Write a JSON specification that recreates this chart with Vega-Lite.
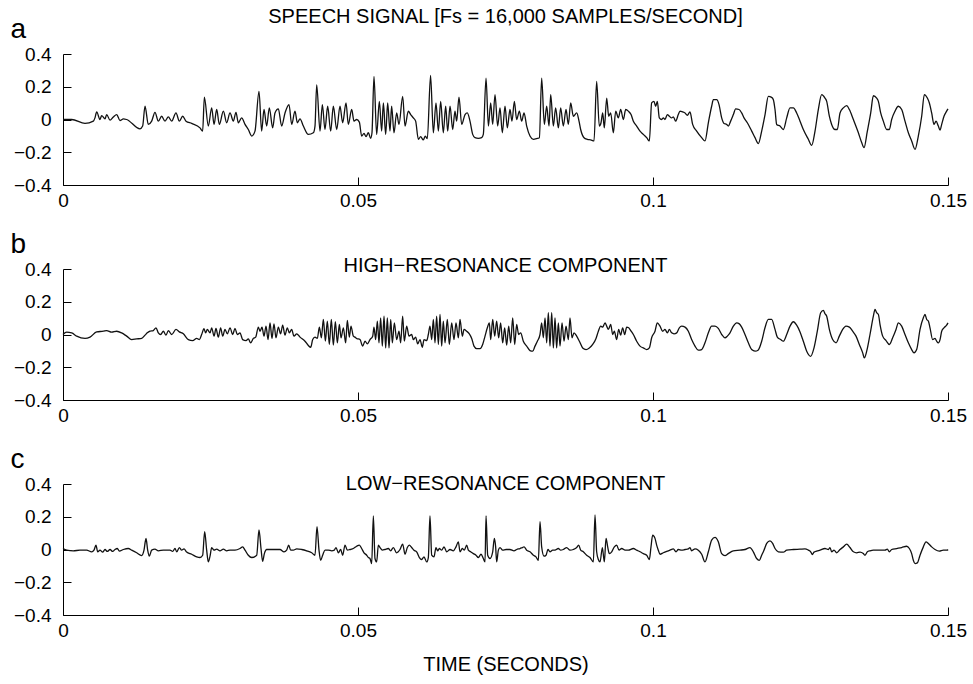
{
  "$schema": "https://vega.github.io/schema/vega-lite/v6.json",
  "background": "white",
  "padding": {"left": 10, "top": 7, "right": 10, "bottom": 5},
  "bounds": "flush",
  "spacing": 84,
  "config": {
    "view": {"stroke": null},
    "font": "Liberation Sans",
    "axis": {"grid": false, "domainColor": "black", "domainWidth": 1, "tickColor": "black", "tickWidth": 1, "tickSize": -8, "labelColor": "black", "labelFont": "Liberation Sans", "labelFontSize": 19, "labelFlush": false, "labelOverlap": false, "titleFont": "Liberation Sans", "titleFontWeight": "normal", "titleColor": "black"},
    "axisX": {"labelPadding": 14},
    "axisY": {"labelPadding": 20},
    "title": {"font": "Liberation Sans", "fontSize": 20, "fontWeight": "normal", "color": "black", "frame": "group", "anchor": "middle", "baseline": "alphabetic"}
  },
  "datasets": {
    "a": [
      {"t":0,"v":0},{"t":0.00147,"v":0},{"t":0.00373,"v":-0.024},{"t":0.00514,"v":-0.01},{"t":0.00542,"v":0.01},{"t":0.00571,"v":0.046},{"t":0.00627,"v":0},{"t":0.00655,"v":0.024},{"t":0.00712,"v":0.004},{"t":0.0074,"v":0.03},{"t":0.00797,"v":-0.004},{"t":0.00853,"v":0.016},{"t":0.0091,"v":0.03},{"t":0.00966,"v":-0.006},{"t":0.01023,"v":0.004},{"t":0.01079,"v":0},{"t":0.01305,"v":-0.057},{"t":0.0135,"v":-0.04},{"t":0.0139,"v":0.081},{"t":0.01446,"v":-0.03},{"t":0.01503,"v":-0.01},{"t":0.01559,"v":0.044},{"t":0.01616,"v":-0.01},{"t":0.01672,"v":0.02},{"t":0.01729,"v":-0.01},{"t":0.01785,"v":0.016},{"t":0.01842,"v":-0.01},{"t":0.01915,"v":0.04},{"t":0.01972,"v":-0.01},{"t":0.02028,"v":0.02},{"t":0.02085,"v":-0.01},{"t":0.02181,"v":-0.024},{"t":0.02322,"v":-0.051},{"t":0.02367,"v":-0.071},{"t":0.02396,"v":0.137},{"t":0.02463,"v":-0.04},{"t":0.0252,"v":0.071},{"t":0.0256,"v":-0.03},{"t":0.02605,"v":0.061},{"t":0.0265,"v":-0.03},{"t":0.02718,"v":0.051},{"t":0.02774,"v":-0.02},{"t":0.02831,"v":0.04},{"t":0.02887,"v":-0.01},{"t":0.02932,"v":0.044},{"t":0.02972,"v":-0.02},{"t":0.03028,"v":0.01},{"t":0.03085,"v":-0.03},{"t":0.03141,"v":-0.061},{"t":0.03198,"v":-0.101},{"t":0.03254,"v":-0.071},{"t":0.03322,"v":0.172},{"t":0.03367,"v":-0.071},{"t":0.03407,"v":0.061},{"t":0.03452,"v":-0.04},{"t":0.03497,"v":0.071},{"t":0.03554,"v":-0.051},{"t":0.03593,"v":0.04},{"t":0.0365,"v":0.065},{"t":0.03706,"v":-0.04},{"t":0.03763,"v":0.04},{"t":0.03831,"v":0.091},{"t":0.03876,"v":-0.03},{"t":0.03932,"v":0.051},{"t":0.03972,"v":-0.02},{"t":0.04017,"v":0.004},{"t":0.04074,"v":-0.04},{"t":0.04158,"v":-0.091},{"t":0.04243,"v":-0.081},{"t":0.04271,"v":-0.04},{"t":0.043,"v":0.212},{"t":0.04356,"v":-0.071},{"t":0.04396,"v":0.091},{"t":0.0444,"v":-0.061},{"t":0.04486,"v":0.081},{"t":0.04537,"v":-0.071},{"t":0.04582,"v":0.081},{"t":0.04639,"v":-0.061},{"t":0.04695,"v":0.081},{"t":0.0474,"v":-0.02},{"t":0.04797,"v":0.101},{"t":0.04836,"v":-0.03},{"t":0.04893,"v":0.061},{"t":0.04932,"v":-0.01},{"t":0.04977,"v":0},{"t":0.05023,"v":-0.016},{"t":0.05062,"v":-0.101},{"t":0.05102,"v":-0.085},{"t":0.05136,"v":-0.105},{"t":0.05175,"v":-0.081},{"t":0.05215,"v":-0.115},{"t":0.05237,"v":-0.081},{"t":0.05271,"v":0.263},{"t":0.05316,"v":-0.091},{"t":0.05362,"v":0.111},{"t":0.05401,"v":-0.071},{"t":0.0543,"v":0.101},{"t":0.05469,"v":-0.091},{"t":0.05503,"v":0.101},{"t":0.05542,"v":-0.071},{"t":0.0557,"v":0.081},{"t":0.0561,"v":-0.081},{"t":0.05655,"v":0.04},{"t":0.05695,"v":-0.03},{"t":0.05757,"v":0.141},{"t":0.05797,"v":-0.04},{"t":0.05853,"v":0.051},{"t":0.05893,"v":0.03},{"t":0.05938,"v":0.01},{"t":0.05977,"v":-0.01},{"t":0.06023,"v":-0.121},{"t":0.06062,"v":-0.105},{"t":0.06107,"v":-0.125},{"t":0.06141,"v":-0.101},{"t":0.06175,"v":-0.117},{"t":0.0623,"v":0.269},{"t":0.06277,"v":-0.081},{"t":0.06322,"v":0.101},{"t":0.06362,"v":-0.071},{"t":0.06401,"v":0.111},{"t":0.06446,"v":-0.081},{"t":0.06486,"v":0.081},{"t":0.0652,"v":-0.071},{"t":0.0656,"v":0.081},{"t":0.06605,"v":-0.061},{"t":0.06644,"v":0.051},{"t":0.06672,"v":-0.01},{"t":0.06712,"v":0.137},{"t":0.06757,"v":-0.03},{"t":0.06814,"v":0.03},{"t":0.06853,"v":0.04},{"t":0.06898,"v":-0.01},{"t":0.06944,"v":-0.091},{"t":0.06983,"v":-0.111},{"t":0.0704,"v":-0.115},{"t":0.07096,"v":-0.111},{"t":0.07124,"v":-0.091},{"t":0.0717,"v":0.253},{"t":0.0721,"v":-0.04},{"t":0.07249,"v":0.101},{"t":0.07283,"v":-0.03},{"t":0.07322,"v":0.152},{"t":0.07367,"v":-0.04},{"t":0.07407,"v":0.071},{"t":0.07446,"v":-0.081},{"t":0.07492,"v":0.081},{"t":0.07531,"v":-0.051},{"t":0.07576,"v":0.061},{"t":0.0761,"v":-0.01},{"t":0.0765,"v":0.111},{"t":0.07689,"v":0},{"t":0.07735,"v":0.051},{"t":0.07774,"v":-0.01},{"t":0.07814,"v":0.04},{"t":0.07859,"v":-0.04},{"t":0.07915,"v":-0.101},{"t":0.07972,"v":-0.121},{"t":0.08028,"v":-0.117},{"t":0.08074,"v":-0.111},{"t":0.08113,"v":0.253},{"t":0.08158,"v":-0.03},{"t":0.08198,"v":0.081},{"t":0.08238,"v":-0.04},{"t":0.08266,"v":0.152},{"t":0.08311,"v":-0.04},{"t":0.0835,"v":0.071},{"t":0.08396,"v":-0.051},{"t":0.08435,"v":0.071},{"t":0.0848,"v":-0.04},{"t":0.08526,"v":0.061},{"t":0.08565,"v":-0.03},{"t":0.08605,"v":0.101},{"t":0.0865,"v":0.02},{"t":0.08707,"v":0.04},{"t":0.08746,"v":-0.01},{"t":0.08774,"v":-0.061},{"t":0.08831,"v":-0.111},{"t":0.08887,"v":-0.121},{"t":0.08944,"v":-0.125},{"t":0.09,"v":-0.131},{"t":0.09045,"v":0.232},{"t":0.0909,"v":-0.04},{"t":0.09119,"v":-0.02},{"t":0.09147,"v":0.04},{"t":0.09175,"v":-0.051},{"t":0.09215,"v":0.131},{"t":0.09249,"v":0.02},{"t":0.09283,"v":0.04},{"t":0.09328,"v":-0.081},{"t":0.09368,"v":0.051},{"t":0.09413,"v":0.01},{"t":0.09452,"v":0.061},{"t":0.09498,"v":0},{"t":0.09537,"v":0.061},{"t":0.09582,"v":0.051},{"t":0.09628,"v":0.03},{"t":0.09667,"v":-0.01},{"t":0.09723,"v":-0.04},{"t":0.0978,"v":-0.071},{"t":0.09836,"v":-0.091},{"t":0.09893,"v":-0.111},{"t":0.09938,"v":-0.131},{"t":0.09977,"v":0.101},{"t":0.10017,"v":0.111},{"t":0.10045,"v":0.081},{"t":0.10073,"v":0.111},{"t":0.10107,"v":0.01},{"t":0.10147,"v":0},{"t":0.10175,"v":0.01},{"t":0.10203,"v":0},{"t":0.10243,"v":0.03},{"t":0.10277,"v":0.02},{"t":0.10316,"v":0.01},{"t":0.10345,"v":0.016},{"t":0.10384,"v":-0.01},{"t":0.10429,"v":0.03},{"t":0.10458,"v":0.051},{"t":0.10503,"v":0.046},{"t":0.10543,"v":0.04},{"t":0.10582,"v":0.026},{"t":0.10627,"v":0.046},{"t":0.10672,"v":-0.03},{"t":0.1074,"v":-0.071},{"t":0.10825,"v":-0.111},{"t":0.10881,"v":-0.131},{"t":0.10938,"v":-0.02},{"t":0.10994,"v":0.081},{"t":0.11023,"v":0.121},{"t":0.11079,"v":0.121},{"t":0.11119,"v":0.091},{"t":0.11164,"v":0.01},{"t":0.11204,"v":-0.024},{"t":0.11249,"v":-0.03},{"t":0.11277,"v":-0.04},{"t":0.11316,"v":-0.01},{"t":0.11362,"v":0.03},{"t":0.11401,"v":0.065},{"t":0.11458,"v":0.061},{"t":0.11503,"v":0.04},{"t":0.11543,"v":0.01},{"t":0.11599,"v":-0.02},{"t":0.11673,"v":-0.071},{"t":0.11729,"v":-0.111},{"t":0.11786,"v":-0.147},{"t":0.11842,"v":-0.071},{"t":0.11899,"v":0.03},{"t":0.11955,"v":0.141},{"t":0.12011,"v":0.135},{"t":0.1204,"v":0.121},{"t":0.12068,"v":0.061},{"t":0.12096,"v":-0.03},{"t":0.12153,"v":-0.04},{"t":0.12209,"v":-0.061},{"t":0.12266,"v":0.01},{"t":0.12322,"v":0.071},{"t":0.12379,"v":0.071},{"t":0.12435,"v":0.04},{"t":0.12492,"v":-0.01},{"t":0.12548,"v":-0.061},{"t":0.12633,"v":-0.121},{"t":0.1269,"v":-0.158},{"t":0.12746,"v":-0.071},{"t":0.12802,"v":0.061},{"t":0.12859,"v":0.152},{"t":0.12915,"v":0.131},{"t":0.12944,"v":0.111},{"t":0.12989,"v":0.02},{"t":0.13028,"v":-0.03},{"t":0.13085,"v":-0.061},{"t":0.13124,"v":-0.061},{"t":0.1317,"v":0.04},{"t":0.13226,"v":0.071},{"t":0.13283,"v":0.085},{"t":0.13328,"v":0.061},{"t":0.13396,"v":0},{"t":0.13481,"v":-0.081},{"t":0.13537,"v":-0.141},{"t":0.13577,"v":-0.172},{"t":0.13633,"v":-0.071},{"t":0.1369,"v":0.04},{"t":0.13735,"v":0.145},{"t":0.13791,"v":0.131},{"t":0.1382,"v":0.111},{"t":0.13859,"v":0.04},{"t":0.13904,"v":-0.01},{"t":0.13961,"v":-0.061},{"t":0.14006,"v":-0.061},{"t":0.14045,"v":0},{"t":0.14102,"v":0.051},{"t":0.14158,"v":0.081},{"t":0.14215,"v":0.061},{"t":0.14271,"v":-0.01},{"t":0.14328,"v":-0.081},{"t":0.14384,"v":-0.131},{"t":0.14441,"v":-0.182},{"t":0.14497,"v":-0.101},{"t":0.14554,"v":0.02},{"t":0.14599,"v":0.152},{"t":0.1465,"v":0.131},{"t":0.14684,"v":0.101},{"t":0.14723,"v":0.04},{"t":0.14763,"v":-0.03},{"t":0.14797,"v":-0.01},{"t":0.14836,"v":-0.04},{"t":0.14865,"v":-0.065},{"t":0.14893,"v":-0.03},{"t":0.14932,"v":0.02},{"t":0.14977,"v":0.051},{"t":0.15,"v":0.065}
    ],
    "b": [
      {"t":0,"v":0},{"t":0.00062,"v":0.014},{"t":0.00147,"v":0.01},{"t":0.00232,"v":-0.01},{"t":0.00373,"v":-0.024},{"t":0.00458,"v":-0.016},{"t":0.00571,"v":0.016},{"t":0.00684,"v":0.02},{"t":0.0074,"v":0.024},{"t":0.00825,"v":0.014},{"t":0.0091,"v":0.02},{"t":0.00994,"v":0.01},{"t":0.01079,"v":-0.01},{"t":0.01164,"v":-0.031},{"t":0.01249,"v":-0.027},{"t":0.01333,"v":-0.024},{"t":0.0139,"v":-0.004},{"t":0.01429,"v":0.01},{"t":0.01475,"v":0.02},{"t":0.01531,"v":0.024},{"t":0.01576,"v":0.041},{"t":0.01616,"v":0.01},{"t":0.01655,"v":0},{"t":0.01701,"v":0.02},{"t":0.01746,"v":-0.004},{"t":0.01785,"v":0.024},{"t":0.01842,"v":0},{"t":0.01915,"v":0.031},{"t":0.01972,"v":0.016},{"t":0.0204,"v":0.004},{"t":0.02124,"v":-0.031},{"t":0.02198,"v":-0.037},{"t":0.02266,"v":-0.024},{"t":0.02311,"v":-0.031},{"t":0.0235,"v":0},{"t":0.0239,"v":0.035},{"t":0.02418,"v":0.01},{"t":0.02446,"v":0.031},{"t":0.02492,"v":0.01},{"t":0.0252,"v":0.041},{"t":0.0256,"v":-0.01},{"t":0.02593,"v":0.037},{"t":0.02633,"v":-0.016},{"t":0.02672,"v":0.041},{"t":0.02706,"v":-0.01},{"t":0.02746,"v":0.031},{"t":0.02785,"v":0.004},{"t":0.02831,"v":0.041},{"t":0.02876,"v":0},{"t":0.02915,"v":0.037},{"t":0.02955,"v":0},{"t":0.03,"v":0.01},{"t":0.03045,"v":-0.031},{"t":0.03102,"v":-0.037},{"t":0.03141,"v":-0.027},{"t":0.03181,"v":-0.051},{"t":0.03226,"v":-0.024},{"t":0.03266,"v":-0.016},{"t":0.03311,"v":0.045},{"t":0.03339,"v":0.02},{"t":0.03373,"v":0.045},{"t":0.03407,"v":-0.01},{"t":0.03441,"v":0.051},{"t":0.03475,"v":-0.031},{"t":0.03509,"v":0.071},{"t":0.03542,"v":-0.024},{"t":0.03576,"v":0.065},{"t":0.0361,"v":-0.02},{"t":0.0365,"v":0.045},{"t":0.03689,"v":0.004},{"t":0.03723,"v":0.057},{"t":0.03763,"v":-0.004},{"t":0.03802,"v":0.041},{"t":0.03836,"v":0.01},{"t":0.03876,"v":0.031},{"t":0.03915,"v":-0.01},{"t":0.03961,"v":0.004},{"t":0.04017,"v":-0.016},{"t":0.04102,"v":-0.041},{"t":0.04158,"v":-0.067},{"t":0.04198,"v":-0.078},{"t":0.04232,"v":-0.031},{"t":0.04271,"v":-0.016},{"t":0.04311,"v":-0.024},{"t":0.04345,"v":0.045},{"t":0.04379,"v":-0.02},{"t":0.04413,"v":0.092},{"t":0.04447,"v":-0.041},{"t":0.0448,"v":0.082},{"t":0.04514,"v":-0.061},{"t":0.04548,"v":0.092},{"t":0.04582,"v":-0.065},{"t":0.04616,"v":0.078},{"t":0.0465,"v":-0.051},{"t":0.04684,"v":0.061},{"t":0.04712,"v":-0.02},{"t":0.04752,"v":0.041},{"t":0.04791,"v":-0.051},{"t":0.04819,"v":0.086},{"t":0.04853,"v":-0.016},{"t":0.04881,"v":0.051},{"t":0.04921,"v":-0.01},{"t":0.04949,"v":-0.016},{"t":0.04977,"v":-0.024},{"t":0.05034,"v":-0.031},{"t":0.05079,"v":-0.071},{"t":0.05119,"v":-0.041},{"t":0.05158,"v":-0.057},{"t":0.05203,"v":-0.031},{"t":0.05249,"v":-0.01},{"t":0.05271,"v":0.045},{"t":0.05299,"v":-0.031},{"t":0.05328,"v":0.082},{"t":0.05356,"v":-0.051},{"t":0.05384,"v":0.102},{"t":0.05412,"v":-0.071},{"t":0.05441,"v":0.112},{"t":0.05469,"v":-0.082},{"t":0.05497,"v":0.102},{"t":0.05526,"v":-0.082},{"t":0.05554,"v":0.092},{"t":0.05582,"v":-0.051},{"t":0.05616,"v":0.071},{"t":0.05655,"v":-0.031},{"t":0.05695,"v":0.02},{"t":0.05723,"v":-0.051},{"t":0.05757,"v":0.112},{"t":0.05785,"v":-0.041},{"t":0.05825,"v":0.051},{"t":0.05865,"v":-0.01},{"t":0.0591,"v":0},{"t":0.05938,"v":-0.031},{"t":0.05977,"v":-0.016},{"t":0.06011,"v":-0.057},{"t":0.06051,"v":-0.031},{"t":0.0609,"v":-0.078},{"t":0.06119,"v":-0.031},{"t":0.06164,"v":-0.037},{"t":0.06192,"v":0},{"t":0.0622,"v":0.051},{"t":0.06249,"v":-0.031},{"t":0.06277,"v":0.092},{"t":0.06305,"v":-0.051},{"t":0.06333,"v":0.112},{"t":0.06362,"v":-0.061},{"t":0.0639,"v":0.122},{"t":0.06418,"v":-0.071},{"t":0.06446,"v":0.082},{"t":0.06475,"v":-0.051},{"t":0.06514,"v":0.092},{"t":0.06548,"v":-0.061},{"t":0.06588,"v":0.071},{"t":0.06627,"v":-0.031},{"t":0.06661,"v":0.071},{"t":0.06701,"v":-0.02},{"t":0.06729,"v":0.092},{"t":0.06768,"v":-0.01},{"t":0.06797,"v":0.031},{"t":0.06842,"v":0.02},{"t":0.06887,"v":0.004},{"t":0.06927,"v":-0.024},{"t":0.06966,"v":-0.071},{"t":0.07011,"v":-0.086},{"t":0.07068,"v":-0.086},{"t":0.07113,"v":-0.061},{"t":0.07153,"v":-0.01},{"t":0.07192,"v":0.041},{"t":0.07226,"v":0.071},{"t":0.07249,"v":-0.031},{"t":0.07283,"v":0.092},{"t":0.07317,"v":-0.01},{"t":0.0735,"v":0.082},{"t":0.07384,"v":-0.02},{"t":0.07418,"v":0.071},{"t":0.07452,"v":-0.051},{"t":0.07486,"v":0.041},{"t":0.0752,"v":-0.065},{"t":0.07554,"v":0.051},{"t":0.07588,"v":-0.051},{"t":0.07622,"v":0.102},{"t":0.07656,"v":-0.061},{"t":0.07689,"v":0.061},{"t":0.07723,"v":0},{"t":0.07757,"v":0.01},{"t":0.07802,"v":-0.041},{"t":0.07859,"v":-0.071},{"t":0.07915,"v":-0.098},{"t":0.07961,"v":-0.102},{"t":0.08,"v":-0.071},{"t":0.0804,"v":-0.041},{"t":0.08085,"v":0},{"t":0.08113,"v":0.071},{"t":0.08141,"v":-0.02},{"t":0.0817,"v":0.102},{"t":0.08198,"v":-0.051},{"t":0.08226,"v":0.133},{"t":0.08254,"v":-0.071},{"t":0.08283,"v":0.133},{"t":0.08311,"v":-0.082},{"t":0.08339,"v":0.102},{"t":0.08367,"v":-0.082},{"t":0.08396,"v":0.071},{"t":0.08424,"v":-0.071},{"t":0.08458,"v":0.071},{"t":0.08492,"v":-0.041},{"t":0.08526,"v":0.051},{"t":0.08565,"v":-0.031},{"t":0.08593,"v":0.102},{"t":0.08627,"v":-0.02},{"t":0.08661,"v":0.01},{"t":0.08706,"v":-0.01},{"t":0.08752,"v":-0.041},{"t":0.08808,"v":-0.082},{"t":0.08865,"v":-0.092},{"t":0.08921,"v":-0.082},{"t":0.08978,"v":-0.061},{"t":0.09034,"v":-0.024},{"t":0.09074,"v":0.02},{"t":0.09113,"v":0.051},{"t":0.09147,"v":0.045},{"t":0.09187,"v":0.071},{"t":0.09215,"v":0.051},{"t":0.09243,"v":0.031},{"t":0.09283,"v":0.061},{"t":0.09317,"v":0},{"t":0.09345,"v":0.02},{"t":0.09384,"v":-0.031},{"t":0.09418,"v":0.031},{"t":0.09452,"v":-0.004},{"t":0.09486,"v":0.041},{"t":0.0952,"v":0},{"t":0.09554,"v":0.045},{"t":0.09588,"v":0.041},{"t":0.09622,"v":0.024},{"t":0.09667,"v":0},{"t":0.09723,"v":-0.041},{"t":0.0978,"v":-0.071},{"t":0.09836,"v":-0.082},{"t":0.09893,"v":-0.092},{"t":0.09938,"v":-0.082},{"t":0.09977,"v":-0.02},{"t":0.10034,"v":0.02},{"t":0.10073,"v":0.071},{"t":0.10119,"v":0.051},{"t":0.10164,"v":0.02},{"t":0.10203,"v":0.031},{"t":0.10243,"v":0.01},{"t":0.10277,"v":0.031},{"t":0.10316,"v":0.01},{"t":0.10356,"v":0.004},{"t":0.10401,"v":0.01},{"t":0.10446,"v":0.041},{"t":0.10486,"v":0.051},{"t":0.10543,"v":0.045},{"t":0.10599,"v":0.02},{"t":0.10655,"v":-0.031},{"t":0.10712,"v":-0.071},{"t":0.10768,"v":-0.096},{"t":0.10825,"v":-0.092},{"t":0.10881,"v":-0.051},{"t":0.10938,"v":0.01},{"t":0.10994,"v":0.051},{"t":0.11051,"v":0.051},{"t":0.11107,"v":0.037},{"t":0.11164,"v":0},{"t":0.1122,"v":-0.02},{"t":0.1126,"v":-0.01},{"t":0.11305,"v":0.01},{"t":0.11362,"v":0.051},{"t":0.11418,"v":0.071},{"t":0.11463,"v":0.065},{"t":0.11503,"v":0.045},{"t":0.11559,"v":0},{"t":0.11616,"v":-0.051},{"t":0.11672,"v":-0.092},{"t":0.11729,"v":-0.102},{"t":0.11785,"v":-0.094},{"t":0.11842,"v":-0.041},{"t":0.11898,"v":0.041},{"t":0.11955,"v":0.092},{"t":0.12011,"v":0.092},{"t":0.12068,"v":0.031},{"t":0.12107,"v":-0.016},{"t":0.12164,"v":-0.031},{"t":0.12209,"v":-0.041},{"t":0.12266,"v":0},{"t":0.12322,"v":0.051},{"t":0.12379,"v":0.078},{"t":0.12435,"v":0.057},{"t":0.12492,"v":0.016},{"t":0.12548,"v":-0.041},{"t":0.12605,"v":-0.102},{"t":0.12672,"v":-0.133},{"t":0.12729,"v":-0.082},{"t":0.12785,"v":0.02},{"t":0.12842,"v":0.133},{"t":0.12887,"v":0.147},{"t":0.12915,"v":0.127},{"t":0.12944,"v":0.112},{"t":0.12989,"v":0.031},{"t":0.13045,"v":-0.031},{"t":0.13102,"v":-0.051},{"t":0.13158,"v":-0.01},{"t":0.13215,"v":0.031},{"t":0.13271,"v":0.051},{"t":0.13328,"v":0.045},{"t":0.13384,"v":0.02},{"t":0.13441,"v":-0.01},{"t":0.13497,"v":-0.061},{"t":0.13554,"v":-0.112},{"t":0.13582,"v":-0.143},{"t":0.13622,"v":-0.102},{"t":0.13678,"v":0},{"t":0.13735,"v":0.112},{"t":0.13763,"v":0.153},{"t":0.13791,"v":0.133},{"t":0.1382,"v":0.122},{"t":0.13848,"v":0.061},{"t":0.13893,"v":-0.01},{"t":0.1395,"v":-0.037},{"t":0.14006,"v":-0.061},{"t":0.14062,"v":-0.02},{"t":0.14119,"v":0.031},{"t":0.14159,"v":0.071},{"t":0.14215,"v":0.051},{"t":0.14271,"v":0},{"t":0.14328,"v":-0.051},{"t":0.14384,"v":-0.092},{"t":0.14424,"v":-0.112},{"t":0.14469,"v":-0.092},{"t":0.14526,"v":0.031},{"t":0.14582,"v":0.102},{"t":0.1461,"v":0.122},{"t":0.14639,"v":0.092},{"t":0.14667,"v":0.082},{"t":0.14695,"v":0.041},{"t":0.1474,"v":-0.031},{"t":0.1478,"v":-0.024},{"t":0.14808,"v":-0.041},{"t":0.14836,"v":-0.051},{"t":0.14865,"v":-0.031},{"t":0.14893,"v":0.02},{"t":0.14932,"v":0.041},{"t":0.14977,"v":0.057},{"t":0.15,"v":0.071}
    ],
    "c": [
      {"t":0,"v":0.006},{"t":0.00062,"v":-0.004},{"t":0.00175,"v":-0.008},{"t":0.00288,"v":-0.004},{"t":0.00401,"v":-0.004},{"t":0.00486,"v":-0.014},{"t":0.00525,"v":-0.004},{"t":0.00559,"v":0.027},{"t":0.00588,"v":-0.014},{"t":0.00627,"v":-0.004},{"t":0.00672,"v":-0.016},{"t":0.00712,"v":0},{"t":0.00751,"v":-0.012},{"t":0.00797,"v":0},{"t":0.00842,"v":-0.012},{"t":0.00881,"v":0},{"t":0.00921,"v":0.006},{"t":0.00955,"v":-0.01},{"t":0.01023,"v":0},{"t":0.01107,"v":0.006},{"t":0.01164,"v":-0.004},{"t":0.01249,"v":-0.02},{"t":0.01333,"v":-0.037},{"t":0.01373,"v":-0.004},{"t":0.01407,"v":0.068},{"t":0.01435,"v":-0.004},{"t":0.01463,"v":-0.041},{"t":0.01503,"v":-0.004},{"t":0.01559,"v":0.002},{"t":0.01616,"v":-0.008},{"t":0.01701,"v":-0.004},{"t":0.01814,"v":-0.004},{"t":0.01859,"v":-0.012},{"t":0.01898,"v":0.006},{"t":0.01927,"v":-0.014},{"t":0.01972,"v":0.012},{"t":0.02011,"v":-0.004},{"t":0.02051,"v":0.004},{"t":0.02096,"v":-0.016},{"t":0.02181,"v":-0.029},{"t":0.02266,"v":-0.045},{"t":0.02322,"v":-0.049},{"t":0.02367,"v":-0.035},{"t":0.02401,"v":0.109},{"t":0.02435,"v":-0.004},{"t":0.02463,"v":-0.076},{"t":0.02492,"v":-0.041},{"t":0.0252,"v":0.012},{"t":0.0256,"v":-0.004},{"t":0.02605,"v":0.002},{"t":0.02661,"v":-0.008},{"t":0.02718,"v":0.002},{"t":0.02774,"v":-0.008},{"t":0.02831,"v":-0.004},{"t":0.02915,"v":-0.004},{"t":0.03,"v":0.006},{"t":0.03045,"v":0.016},{"t":0.03085,"v":-0.004},{"t":0.03141,"v":-0.035},{"t":0.03198,"v":-0.049},{"t":0.03283,"v":-0.035},{"t":0.03322,"v":0.119},{"t":0.03356,"v":0.006},{"t":0.03384,"v":-0.072},{"t":0.03413,"v":-0.025},{"t":0.03452,"v":0},{"t":0.03509,"v":0},{"t":0.03678,"v":0},{"t":0.03746,"v":-0.014},{"t":0.03791,"v":-0.004},{"t":0.03825,"v":0.027},{"t":0.03859,"v":-0.004},{"t":0.03904,"v":-0.004},{"t":0.03961,"v":0.004},{"t":0.04045,"v":0},{"t":0.0413,"v":-0.008},{"t":0.04215,"v":-0.02},{"t":0.04271,"v":-0.035},{"t":0.04305,"v":0.139},{"t":0.04339,"v":-0.004},{"t":0.04367,"v":-0.066},{"t":0.04401,"v":-0.035},{"t":0.04441,"v":-0.004},{"t":0.04497,"v":-0.004},{"t":0.04554,"v":-0.008},{"t":0.04599,"v":-0.004},{"t":0.04627,"v":0.012},{"t":0.04667,"v":-0.02},{"t":0.04706,"v":0},{"t":0.0474,"v":-0.035},{"t":0.0478,"v":0.027},{"t":0.04819,"v":-0.004},{"t":0.04864,"v":0},{"t":0.04921,"v":0.006},{"t":0.04977,"v":0.02},{"t":0.05023,"v":0.027},{"t":0.05062,"v":0.006},{"t":0.05102,"v":-0.02},{"t":0.05147,"v":-0.035},{"t":0.05175,"v":-0.049},{"t":0.05203,"v":-0.055},{"t":0.05232,"v":-0.086},{"t":0.0526,"v":0.205},{"t":0.05288,"v":-0.055},{"t":0.05316,"v":-0.076},{"t":0.05345,"v":0.027},{"t":0.05373,"v":0.012},{"t":0.05412,"v":-0.004},{"t":0.05458,"v":0},{"t":0.05514,"v":0.006},{"t":0.05554,"v":-0.008},{"t":0.05599,"v":0.012},{"t":0.05655,"v":-0.02},{"t":0.05712,"v":0},{"t":0.05757,"v":0.033},{"t":0.05797,"v":-0.029},{"t":0.05836,"v":0.012},{"t":0.0587,"v":0.027},{"t":0.0591,"v":0.012},{"t":0.05949,"v":-0.004},{"t":0.05994,"v":-0.014},{"t":0.0604,"v":-0.049},{"t":0.06079,"v":-0.061},{"t":0.06119,"v":-0.045},{"t":0.06164,"v":-0.076},{"t":0.06192,"v":-0.049},{"t":0.0622,"v":0.205},{"t":0.06249,"v":-0.035},{"t":0.06288,"v":-0.045},{"t":0.06322,"v":0.012},{"t":0.0635,"v":-0.008},{"t":0.06379,"v":0.006},{"t":0.06418,"v":-0.004},{"t":0.06458,"v":0.016},{"t":0.06503,"v":-0.014},{"t":0.0656,"v":0},{"t":0.06616,"v":-0.008},{"t":0.06661,"v":0.016},{"t":0.06701,"v":0.047},{"t":0.06729,"v":-0.014},{"t":0.06768,"v":0.006},{"t":0.06802,"v":-0.004},{"t":0.06842,"v":0.027},{"t":0.0687,"v":-0.004},{"t":0.0691,"v":-0.014},{"t":0.06955,"v":-0.025},{"t":0.07,"v":-0.035},{"t":0.0704,"v":-0.049},{"t":0.07085,"v":-0.029},{"t":0.07124,"v":-0.055},{"t":0.07153,"v":-0.076},{"t":0.0717,"v":0.205},{"t":0.07198,"v":-0.035},{"t":0.07237,"v":-0.055},{"t":0.07283,"v":-0.014},{"t":0.07311,"v":0.068},{"t":0.07333,"v":0.016},{"t":0.0735,"v":-0.076},{"t":0.07379,"v":-0.004},{"t":0.07407,"v":0.012},{"t":0.07452,"v":-0.004},{"t":0.07509,"v":0},{"t":0.07576,"v":0},{"t":0.07644,"v":-0.008},{"t":0.07689,"v":0},{"t":0.07746,"v":0.006},{"t":0.07786,"v":0.012},{"t":0.07814,"v":0.016},{"t":0.07859,"v":-0.004},{"t":0.07915,"v":-0.014},{"t":0.07972,"v":-0.035},{"t":0.08017,"v":-0.045},{"t":0.08057,"v":-0.066},{"t":0.08085,"v":0.17},{"t":0.08113,"v":0.016},{"t":0.08153,"v":-0.041},{"t":0.08187,"v":-0.035},{"t":0.0822,"v":0},{"t":0.08254,"v":-0.014},{"t":0.08299,"v":-0.004},{"t":0.08339,"v":-0.004},{"t":0.08396,"v":0.006},{"t":0.08435,"v":-0.004},{"t":0.0848,"v":0},{"t":0.08537,"v":0.012},{"t":0.08593,"v":-0.004},{"t":0.0865,"v":0},{"t":0.08707,"v":0.012},{"t":0.0874,"v":0.027},{"t":0.08774,"v":-0.004},{"t":0.08819,"v":-0.014},{"t":0.08876,"v":-0.035},{"t":0.08932,"v":-0.049},{"t":0.08989,"v":-0.076},{"t":0.09017,"v":0.211},{"t":0.09045,"v":-0.014},{"t":0.09074,"v":-0.061},{"t":0.09102,"v":-0.076},{"t":0.09142,"v":0.012},{"t":0.09175,"v":-0.076},{"t":0.09204,"v":0.068},{"t":0.09232,"v":0.016},{"t":0.0926,"v":-0.025},{"t":0.093,"v":-0.014},{"t":0.09345,"v":0.016},{"t":0.09384,"v":0.027},{"t":0.09424,"v":-0.004},{"t":0.0947,"v":0.006},{"t":0.09526,"v":-0.004},{"t":0.09582,"v":-0.004},{"t":0.09667,"v":0.006},{"t":0.09723,"v":-0.004},{"t":0.0978,"v":-0.014},{"t":0.09836,"v":-0.025},{"t":0.09893,"v":-0.035},{"t":0.09938,"v":-0.061},{"t":0.09966,"v":0.016},{"t":0.09994,"v":0.088},{"t":0.10034,"v":0.068},{"t":0.10062,"v":0.027},{"t":0.1009,"v":-0.004},{"t":0.10119,"v":-0.029},{"t":0.10175,"v":-0.02},{"t":0.10232,"v":-0.012},{"t":0.10288,"v":-0.004},{"t":0.10345,"v":0.004},{"t":0.1039,"v":-0.014},{"t":0.10429,"v":0},{"t":0.10486,"v":-0.004},{"t":0.10543,"v":0},{"t":0.10599,"v":0.004},{"t":0.10627,"v":0.012},{"t":0.10655,"v":-0.008},{"t":0.10712,"v":0.004},{"t":0.10768,"v":-0.004},{"t":0.10825,"v":-0.029},{"t":0.10881,"v":-0.076},{"t":0.10938,"v":-0.014},{"t":0.10994,"v":0.057},{"t":0.11051,"v":0.074},{"t":0.11107,"v":0.047},{"t":0.11164,"v":-0.025},{"t":0.1122,"v":-0.037},{"t":0.11276,"v":-0.025},{"t":0.11361,"v":-0.008},{"t":0.11475,"v":-0.004},{"t":0.11559,"v":0},{"t":0.11644,"v":0.012},{"t":0.11701,"v":-0.014},{"t":0.11757,"v":-0.055},{"t":0.11802,"v":-0.066},{"t":0.11842,"v":-0.035},{"t":0.11881,"v":-0.004},{"t":0.11927,"v":0.037},{"t":0.11983,"v":0.053},{"t":0.12028,"v":0.037},{"t":0.12068,"v":0.006},{"t":0.12124,"v":-0.014},{"t":0.12209,"v":-0.016},{"t":0.12266,"v":-0.004},{"t":0.12379,"v":0},{"t":0.12492,"v":0.002},{"t":0.12576,"v":0.004},{"t":0.12633,"v":-0.004},{"t":0.12673,"v":-0.014},{"t":0.12701,"v":-0.031},{"t":0.12729,"v":-0.016},{"t":0.12774,"v":-0.01},{"t":0.12831,"v":-0.004},{"t":0.12915,"v":0.006},{"t":0.12972,"v":0},{"t":0.13,"v":0.012},{"t":0.13028,"v":-0.014},{"t":0.13068,"v":-0.004},{"t":0.13113,"v":-0.02},{"t":0.1317,"v":0},{"t":0.13226,"v":0.016},{"t":0.13283,"v":0.033},{"t":0.13339,"v":0.012},{"t":0.13396,"v":-0.014},{"t":0.13452,"v":-0.02},{"t":0.13509,"v":-0.016},{"t":0.13565,"v":-0.025},{"t":0.13593,"v":-0.035},{"t":0.13633,"v":-0.014},{"t":0.13678,"v":-0.008},{"t":0.13735,"v":-0.004},{"t":0.13848,"v":-0.004},{"t":0.13933,"v":-0.004},{"t":0.13972,"v":0.002},{"t":0.14006,"v":-0.014},{"t":0.14045,"v":0},{"t":0.1413,"v":0.006},{"t":0.14215,"v":0.012},{"t":0.14299,"v":0.02},{"t":0.14345,"v":0.006},{"t":0.14384,"v":-0.025},{"t":0.14413,"v":-0.066},{"t":0.14441,"v":-0.086},{"t":0.1448,"v":-0.082},{"t":0.14526,"v":-0.035},{"t":0.14582,"v":0.016},{"t":0.14627,"v":0.047},{"t":0.14667,"v":0.037},{"t":0.14723,"v":0.016},{"t":0.1478,"v":0},{"t":0.14853,"v":-0.01},{"t":0.1492,"v":-0.004},{"t":0.14988,"v":-0.004},{"t":0.15,"v":0}
    ]
  },
  "vconcat": [
    {
      "width": 885, "height": 131,
      "data": {"name": "a"},
      "title": {"text": "SPEECH SIGNAL [Fs = 16,000 SAMPLES/SECOND]", "offset": -12},
      "mark": {"type": "line", "color": "#111111", "strokeWidth": 1.3, "interpolate": "monotone"},
      "encoding": {
        "x": {"field": "t", "type": "quantitative", "scale": {"domain": [0, 0.15], "nice": false, "zero": false}, "axis": {"values": [0, 0.05, 0.1, 0.15], "format": ".2~f", "title": null}},
        "y": {"field": "v", "type": "quantitative", "scale": {"domain": [-0.4, 0.4], "nice": false}, "axis": {"values": [-0.4, -0.2, 0, 0.2, 0.4], "format": ".1~f", "title": "a", "titleAngle": 0, "titleX": -53, "titleY": -17, "titleAlign": "left", "titleBaseline": "alphabetic", "titleFontSize": 28}}
      }
    },
    {
      "width": 885, "height": 131,
      "data": {"name": "b"},
      "title": {"text": "HIGH−RESONANCE COMPONENT", "offset": -46},
      "mark": {"type": "line", "color": "#111111", "strokeWidth": 1.3, "interpolate": "monotone"},
      "encoding": {
        "x": {"field": "t", "type": "quantitative", "scale": {"domain": [0, 0.15], "nice": false, "zero": false}, "axis": {"values": [0, 0.05, 0.1, 0.15], "format": ".2~f", "title": null}},
        "y": {"field": "v", "type": "quantitative", "scale": {"domain": [-0.4, 0.4], "nice": false}, "axis": {"values": [-0.4, -0.2, 0, 0.2, 0.4], "format": ".1~f", "title": "b", "titleAngle": 0, "titleX": -53, "titleY": -17, "titleAlign": "left", "titleBaseline": "alphabetic", "titleFontSize": 28}}
      }
    },
    {
      "width": 885, "height": 131,
      "data": {"name": "c"},
      "title": {"text": "LOW−RESONANCE COMPONENT", "offset": -49},
      "mark": {"type": "line", "color": "#111111", "strokeWidth": 1.3, "interpolate": "monotone"},
      "encoding": {
        "x": {"field": "t", "type": "quantitative", "scale": {"domain": [0, 0.15], "nice": false, "zero": false}, "axis": {"values": [0, 0.05, 0.1, 0.15], "format": ".2~f", "title": "TIME (SECONDS)", "titleFontSize": 20, "titlePadding": 14}},
        "y": {"field": "v", "type": "quantitative", "scale": {"domain": [-0.4, 0.4], "nice": false}, "axis": {"values": [-0.4, -0.2, 0, 0.2, 0.4], "format": ".1~f", "title": "c", "titleAngle": 0, "titleX": -53, "titleY": -17, "titleAlign": "left", "titleBaseline": "alphabetic", "titleFontSize": 28}}
      }
    }
  ]
}
